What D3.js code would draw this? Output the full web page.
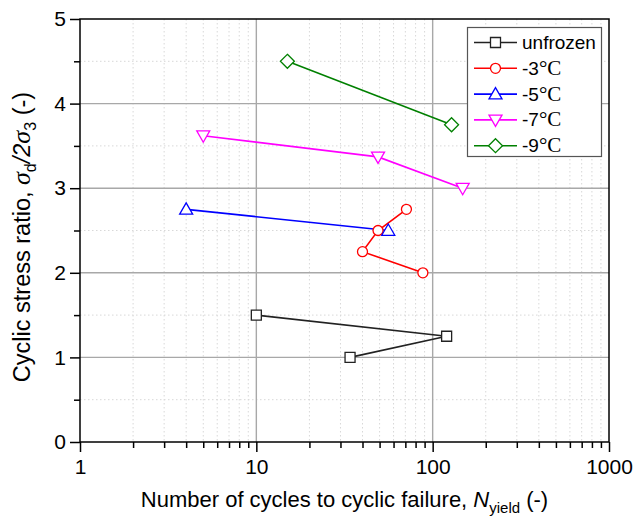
<!DOCTYPE html>
<html>
<head>
<meta charset="utf-8">
<script src="https://cdn.jsdelivr.net/npm/d3@7"></script>
<style>
  html, body { margin: 0; padding: 0; background: #fff; }
  svg { display: block; }
  text { font-family: "Liberation Sans", Arial, sans-serif; fill: #000; }
</style>
</head>
<body>
<svg id="chart" width="634" height="519"></svg>
<script>
// Series names and (N_yield, cyclic stress ratio) pairs
const seriesNames = ["unfrozen", "-3", "-5", "-7", "-9"];
const seriesUnits = ["", "°C", "°C", "°C", "°C"];

const unfrozenN = [10, 120, 34];
const unfrozenR = [1.5, 1.25, 1.0];

const minus3N = [71, 49, 40, 88];
const minus3R = [2.75, 2.5, 2.25, 2.0];

const minus5N = [4, 56];
const minus5R = [2.75, 2.5];

const minus7N = [5, 49, 148];
const minus7R = [3.62, 3.37, 3.0];

const minus9N = [15, 128];
const minus9R = [4.5, 3.75];

const xTickValues = [1, 10, 100, 1000];
const yTickValues = [0, 1, 2, 3, 4, 5];

const seriesColors = ["#222222", "#ff0000", "#0000ff", "#ff00ff", "#008000"];
const seriesSymbols = ["square", "circle", "triUp", "triDown", "diamond"];

const seriesData = [
  d3.zip(unfrozenN, unfrozenR),
  d3.zip(minus3N, minus3R),
  d3.zip(minus5N, minus5R),
  d3.zip(minus7N, minus7R),
  d3.zip(minus9N, minus9R)
];

const svg = d3.select("#chart");
const plotL = 80, plotR = 609, plotT = 19, plotB = 442;

const x = d3.scaleLog().domain([1, 1000]).range([plotL, plotR]);
const y = d3.scaleLinear().domain([0, 5]).range([plotB, plotT]);

// Minor values: 2..9 of each decade, and half units on y
const xMinor = [];
[1, 10, 100].forEach(d => { for (let k = 2; k <= 9; k++) xMinor.push(d * k); });
const yMinor = d3.range(0.5, 5, 1);

const grid = svg.append("g");
grid.selectAll("line.xminor").data(xMinor).join("line")
  .attr("x1", d => x(d)).attr("x2", d => x(d))
  .attr("y1", plotT).attr("y2", plotB)
  .attr("stroke", "#d8d8d8").attr("stroke-width", 1).attr("stroke-dasharray", "1.5,2.5");
grid.selectAll("line.yminor").data(yMinor).join("line")
  .attr("x1", plotL).attr("x2", plotR)
  .attr("y1", d => y(d)).attr("y2", d => y(d))
  .attr("stroke", "#d8d8d8").attr("stroke-width", 1).attr("stroke-dasharray", "1.5,2.5");
grid.selectAll("line.xmajor").data([10, 100]).join("line")
  .attr("x1", d => x(d)).attr("x2", d => x(d))
  .attr("y1", plotT).attr("y2", plotB)
  .attr("stroke", "#a8a8a8").attr("stroke-width", 1.4);
grid.selectAll("line.ymajor").data([1, 2, 3, 4]).join("line")
  .attr("x1", plotL).attr("x2", plotR)
  .attr("y1", d => y(d)).attr("y2", d => y(d))
  .attr("stroke", "#a8a8a8").attr("stroke-width", 1.4);

// Axes
const xAxis = svg.append("g").attr("transform", `translate(0,${plotB})`)
  .call(d3.axisBottom(x).tickValues(xTickValues).tickFormat(d3.format("d")).tickSize(10).tickPadding(7));
const xAxisMinor = svg.append("g").attr("transform", `translate(0,${plotB})`)
  .call(d3.axisBottom(x).tickValues(xMinor).tickFormat("").tickSize(6));
const yAxis = svg.append("g").attr("transform", `translate(${plotL},0)`)
  .call(d3.axisLeft(y).tickValues(yTickValues).tickFormat(d3.format("d")).tickSize(10).tickPadding(4));
const yAxisMinor = svg.append("g").attr("transform", `translate(${plotL},0)`)
  .call(d3.axisLeft(y).tickValues(yMinor).tickFormat("").tickSize(6));

[xAxis, xAxisMinor, yAxis, yAxisMinor].forEach(g => {
  g.select(".domain").remove();
  g.selectAll(".tick line").attr("stroke", "#000").attr("stroke-width", 1.5);
  g.selectAll("text").style("font-family", "'Liberation Sans', Arial, sans-serif")
    .style("font-size", "21px").attr("fill", "#000");
});

// Frame
svg.append("rect").attr("x", plotL).attr("y", plotT)
  .attr("width", plotR - plotL).attr("height", plotB - plotT)
  .attr("fill", "none").attr("stroke", "#000").attr("stroke-width", 1.5);

// Marker shapes
function symbolPath(type) {
  switch (type) {
    case "square": return "M-5,-5H5V5H-5Z";
    case "circle": return "M5,0A5,5 0 1,1 -5,0A5,5 0 1,1 5,0Z";
    case "triUp": return "M0,-6.5L6.5,4.8H-6.5Z";
    case "triDown": return "M0,6.5L6.5,-4.8H-6.5Z";
    case "diamond": return "M0,-7L7,0L0,7L-7,0Z";
  }
}

const line = d3.line().x(d => x(d[0])).y(d => y(d[1]));

const plot = svg.append("g");
seriesData.forEach((data, i) => {
  plot.append("path").datum(data)
    .attr("d", line).attr("fill", "none")
    .attr("stroke", seriesColors[i]).attr("stroke-width", 1.6);
});
seriesData.forEach((data, i) => {
  plot.selectAll(null).data(data).join("path")
    .attr("transform", d => `translate(${x(d[0])},${y(d[1])})`)
    .attr("d", symbolPath(seriesSymbols[i]))
    .attr("fill", "#fff").attr("stroke", seriesColors[i]).attr("stroke-width", 1.3);
});

// Legend
const legend = svg.append("g");
legend.append("rect").attr("x", 467.5).attr("y", 27.5).attr("width", 134).attr("height", 129)
  .attr("fill", "#fff").attr("stroke", "#555").attr("stroke-width", 1.2);
seriesNames.forEach((name, i) => {
  const ly = 42.5 + i * 25.8;
  legend.append("line").attr("x1", 474).attr("x2", 517).attr("y1", ly).attr("y2", ly)
    .attr("stroke", seriesColors[i]).attr("stroke-width", 1.6);
  legend.append("path").attr("transform", `translate(495.5,${ly})`)
    .attr("d", symbolPath(seriesSymbols[i]))
    .attr("fill", "#fff").attr("stroke", seriesColors[i]).attr("stroke-width", 1.3);
  const t = legend.append("text").attr("x", 522).attr("y", ly + 6.5).style("font-size", "19px");
  t.append("tspan").text(name);
  if (seriesUnits[i]) {
    t.append("tspan").style("font-family", "'Liberation Serif', 'Times New Roman', serif")
      .style("font-size", "21px").text(seriesUnits[i]);
  }
});

// Axis titles
const xt = svg.append("text").attr("x", (plotL + plotR) / 2).attr("y", 507)
  .attr("text-anchor", "middle").style("font-size", "22px");
xt.append("tspan").text("Number of cycles to cyclic failure, ");
xt.append("tspan").style("font-style", "italic").text("N");
xt.append("tspan").attr("dy", 6).style("font-size", "15px").text("yield");
xt.append("tspan").attr("dy", -6).text(" (-)");

const yt = svg.append("text")
  .attr("transform", `translate(30,237) rotate(-90)`)
  .attr("text-anchor", "middle").style("font-size", "23.5px");
yt.append("tspan").text("Cyclic stress ratio, ");
yt.append("tspan").style("font-style", "italic")
  .style("font-family", "'Liberation Serif', 'Times New Roman', serif").style("font-size", "26px").text("σ");
yt.append("tspan").attr("dy", 6).style("font-size", "16px").text("d");
yt.append("tspan").attr("dy", -6).style("font-style", "italic").text("/2");
yt.append("tspan").style("font-style", "italic")
  .style("font-family", "'Liberation Serif', 'Times New Roman', serif").style("font-size", "26px").text("σ");
yt.append("tspan").attr("dy", 6).style("font-size", "16px").text("3");
yt.append("tspan").attr("dy", -6).text(" (-)");
</script>
</body>
</html>
